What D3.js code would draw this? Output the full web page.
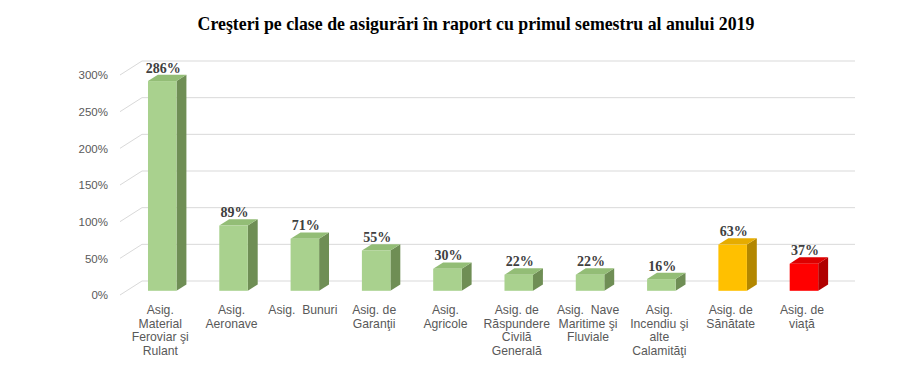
<!DOCTYPE html>
<html>
<head>
<meta charset="utf-8">
<script src="https://cdn.jsdelivr.net/npm/d3@7"></script>
<style>
  body { margin: 0; background: #fff; }
  svg { display: block; }
</style>
</head>
<body>
<svg class="chart"></svg>
<script>
const width = 899,
  height = 380;

const categories = [
  "Asig. Material Feroviar şi Rulant",
  "Asig. Aeronave",
  "Asig. Bunuri",
  "Asig. de Garanţii",
  "Asig. Agricole",
  "Asig. de Răspundere Civilă Generală",
  "Asig. Nave Maritime şi Fluviale",
  "Asig. Incendiu şi alte Calamităţi",
  "Asig. de Sănătate",
  "Asig. de viaţă"
];
// how the category text is broken in the picture
const labelLines = [
  ["Asig.", "Material", "Feroviar şi", "Rulant"],
  ["Asig.", "Aeronave"],
  ["Asig.  Bunuri"],
  ["Asig. de", "Garanţii"],
  ["Asig.", "Agricole"],
  ["Asig. de", "Răspundere", "Civilă", "Generală"],
  ["Asig.  Nave", "Maritime şi", "Fluviale"],
  ["Asig.", "Incendiu şi", "alte", "Calamităţi"],
  ["Asig. de", "Sănătate"],
  ["Asig. de", "viaţă"]
];
const values = [2.86, 0.89, 0.71, 0.55, 0.30, 0.22, 0.22, 0.16, 0.63, 0.37];
const yTicks = [0, 0.5, 1, 1.5, 2, 2.5, 3];
const barKind = ["g", "g", "g", "g", "g", "g", "g", "g", "y", "r"];

const palette = {
  g: { front: "#A9D18E", top: "#93BD76", side: "#6F8E55" },
  y: { front: "#FFC000", top: "#E6AC00", side: "#B38700" },
  r: { front: "#FF0000", top: "#DD0000", side: "#B00000" }
};

// depth of the 3d box: offset at the back wall
const depthX = 22, depthY = -14;
const off = t => [depthX * t, depthY * t];

const x = d3.scaleBand()
  .domain(categories)
  .range([120, 833]);
const y = d3.scaleLinear()
  .domain([0, 3])
  .range([295, 75]);

const chart = d3.select(".chart")
  .attr("width", width)
  .attr("height", height);

chart.append("text")
  .attr("x", 476)
  .attr("y", 30)
  .attr("text-anchor", "middle")
  .style("font-family", "'Liberation Serif', serif")
  .style("font-weight", "bold")
  .style("font-size", "17.8px")
  .style("fill", "#000")
  .text("Creşteri pe clase de asigurări în raport cu primul semestru al anului 2019");

// gridlines: diagonal on the side wall + horizontal on the back wall
const [bx, by] = off(1);
const grid = chart.append("g");
yTicks.forEach(t => {
  const yy = y(t);
  grid.append("path")
    .attr("d", `M${x.range()[0]},${yy} L${x.range()[0] + bx},${yy + by} L${x.range()[1] + bx},${yy + by}`)
    .attr("fill", "none")
    .attr("stroke", "#D9D9D9")
    .attr("stroke-width", 1);
});

// y tick labels
let yAxis = d3.axisLeft(y)
  .tickValues(yTicks)
  .tickFormat(d3.format(".0%"))
  .tickSize(0)
  .tickPadding(0);
chart.append("g")
  .attr("transform", "translate(108,0)")
  .call(yAxis)
  .call(g => g.select(".domain").remove())
  .selectAll("text")
  .style("font-family", "'Liberation Sans', sans-serif")
  .style("font-size", "11.5px")
  .style("fill", "#595959");

// bars
const t0 = 0.3, t1 = 0.75;
const bw = x.bandwidth() * 0.4;
const bars = chart.append("g");
categories.forEach((c, i) => {
  const v = values[i];
  const col = palette[barKind[i]];
  const [fx, fy] = off(t0);
  const [kx, ky] = off(t1);
  const left = x(c) + x.bandwidth() * 0.3 + fx;
  const right = left + bw;
  const top = y(v) + fy;
  const bottom = y(0) + fy;
  const dx = kx - fx, dy = ky - fy;
  // side
  bars.append("path")
    .attr("d", `M${right},${top} L${right + dx},${top + dy} L${right + dx},${bottom + dy} L${right},${bottom} Z`)
    .attr("fill", col.side);
  // top
  bars.append("path")
    .attr("d", `M${left},${top} L${left + dx},${top + dy} L${right + dx},${top + dy} L${right},${top} Z`)
    .attr("fill", col.top);
  // front
  bars.append("rect")
    .attr("x", left)
    .attr("y", top)
    .attr("width", bw)
    .attr("height", bottom - top)
    .attr("fill", col.front);
  // value label
  bars.append("text")
    .attr("x", left + bw / 2 + 1)
    .attr("y", top - 8.5)
    .attr("text-anchor", "middle")
    .style("font-family", "'Liberation Serif', serif")
    .style("font-weight", "bold")
    .style("font-size", "14px")
    .style("fill", "#404040")
    .text(d3.format(".0%")(v));
  // category label
  const lbl = bars.append("text")
    .attr("text-anchor", "middle")
    .style("font-family", "'Liberation Sans', sans-serif")
    .style("font-size", "12.2px")
    .style("fill", "#595959")
    .style("white-space", "pre");
  labelLines[i].forEach((line, j) => {
    lbl.append("tspan")
      .attr("x", left + bw / 2 - 2)
      .attr("y", 314 + j * 13.7)
      .text(line);
  });
});
</script>
</body>
</html>
